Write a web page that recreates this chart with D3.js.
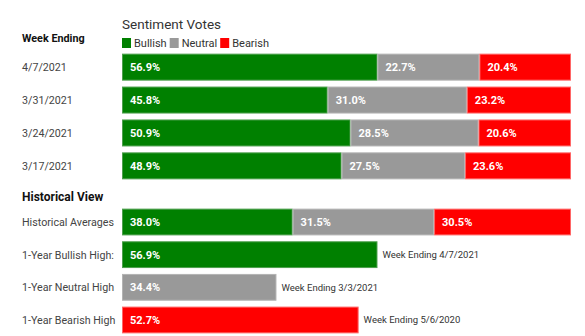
<!DOCTYPE html>
<html>
<head>
<meta charset="utf-8">
<script src="https://cdnjs.cloudflare.com/ajax/libs/d3/7.8.5/d3.min.js"></script>
<style>
  body { margin: 0; background: #fff; }
  svg { font-family: Roboto, "Noto Sans", sans-serif; display: block; }
</style>
</head>
<body>
<svg width="585" height="336"></svg>
<script>
// weekly votes
var weeks = ["4/7/2021", "3/31/2021", "3/24/2021", "3/17/2021"];
var bullish = [56.9, 45.8, 50.9, 48.9];
var neutral = [22.7, 31.0, 28.5, 27.5];
var bearish = [20.4, 23.2, 20.6, 23.6];

// historical view
var histLabels = ["Historical Averages", "1-Year Bullish High:", "1-Year Neutral High", "1-Year Bearish High"];
var histAvg = [38.0, 31.5, 30.5];
var highs = [56.9, 34.4, 52.7];
var highKinds = ["Bullish", "Neutral", "Bearish"];
var highWeeks = ["Week Ending 4/7/2021", "Week Ending 3/3/2021", "Week Ending 5/6/2020"];

var kinds = ["Bullish", "Neutral", "Bearish"];
var colors = { Bullish: "#008000", Neutral: "#999999", Bearish: "#ff0000" };
var borders = { Bullish: "#4d9f4d", Neutral: "#b3b3b3", Bearish: "#ff6666" };

var svg = d3.select("svg");

var x = d3.scaleLinear().domain([0, 100]).range([122, 571]);

var yTop = d3.scaleBand().domain(weeks).range([52, 181]).paddingInner(0.18).paddingOuter(0.05);
var yHist = d3.scaleBand().domain(histLabels).range([207, 335]).paddingInner(0.18).paddingOuter(0.05);

// headers
svg.append("text").attr("x", 122).attr("y", 29).attr("font-size", 13.5).attr("fill", "#333").text("Sentiment Votes");
svg.append("text").attr("x", 22).attr("y", 42).attr("font-size", 10.8).attr("font-weight", "bold").attr("fill", "#111").text("Week Ending");
svg.append("text").attr("x", 22).attr("y", 201).attr("font-size", 12).attr("font-weight", "bold").attr("fill", "#111").text("Historical View");

// legend
var lx = 122;
kinds.forEach(function (k) {
  svg.append("rect").attr("x", lx).attr("y", 38).attr("width", 9).attr("height", 10).attr("fill", colors[k]);
  var t = svg.append("text").attr("x", lx + 12).attr("y", 47).attr("font-size", 11).attr("fill", "#333").text(k);
  lx += 12 + t.node().getComputedTextLength() + 3;
});

function stackRow(g, y, h, vals) {
  var start = 0;
  vals.forEach(function (v, i) {
    var k = kinds[i];
    g.append("rect")
      .attr("x", x(start) + 0.5).attr("y", y + 0.5)
      .attr("width", x(start + v) - x(start) - 1).attr("height", h - 1)
      .attr("fill", colors[k]).attr("stroke", borders[k]).attr("stroke-width", 1);
    g.append("text")
      .attr("x", x(start) + 8).attr("y", y + h / 2 + 4)
      .attr("font-size", 11).attr("font-weight", "bold").attr("fill", "#fff")
      .text(v.toFixed(1) + "%");
    start += v;
  });
}

// weekly rows
weeks.forEach(function (w, i) {
  var y = yTop(w), h = yTop.bandwidth();
  svg.append("text").attr("x", 22).attr("y", y + h / 2 + 4).attr("font-size", 10.7).attr("fill", "#444").text(w);
  stackRow(svg, y, h, [bullish[i], neutral[i], bearish[i]]);
});

// historical rows
histLabels.forEach(function (lab, i) {
  var y = yHist(lab), h = yHist.bandwidth();
  svg.append("text").attr("x", 22).attr("y", y + h / 2 + 4).attr("font-size", 10.7).attr("fill", "#444").text(lab);
  if (i === 0) {
    stackRow(svg, y, h, histAvg);
  } else {
    var k = highKinds[i - 1], v = highs[i - 1];
    svg.append("rect")
      .attr("x", x(0) + 0.5).attr("y", y + 0.5)
      .attr("width", x(v) - x(0) - 1).attr("height", h - 1)
      .attr("fill", colors[k]).attr("stroke", borders[k]);
    svg.append("text")
      .attr("x", x(0) + 8).attr("y", y + h / 2 + 4)
      .attr("font-size", 11).attr("font-weight", "bold").attr("fill", "#fff")
      .text(v.toFixed(1) + "%");
    svg.append("text")
      .attr("x", x(v) + 5).attr("y", y + h / 2 + 3.5)
      .attr("font-size", 9.5).attr("fill", "#333")
      .text(highWeeks[i - 1]);
  }
});
</script>
</body>
</html>
